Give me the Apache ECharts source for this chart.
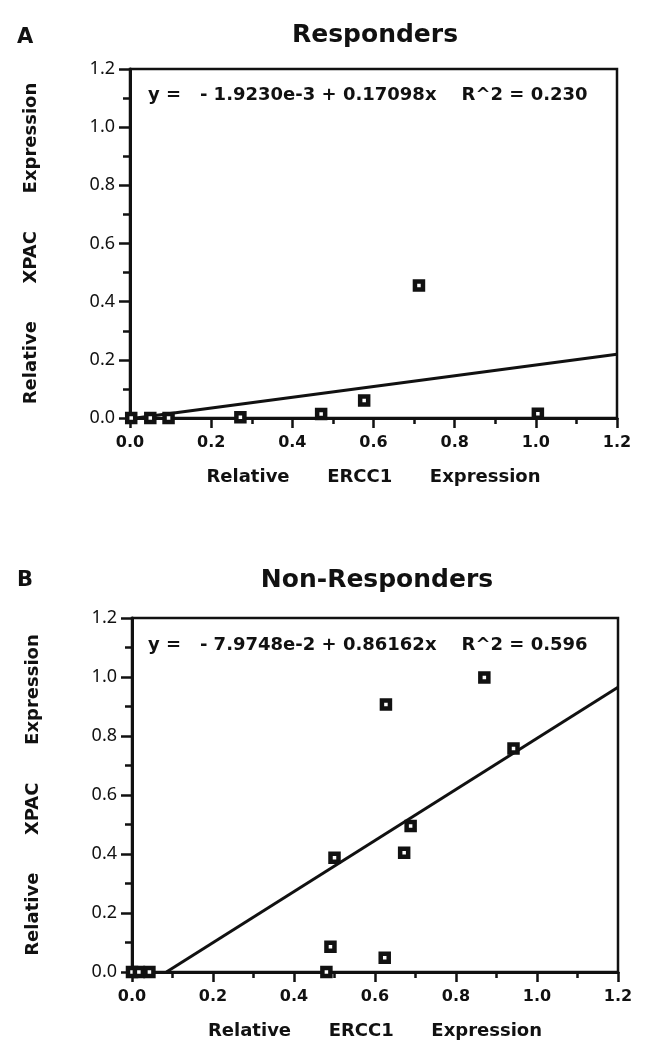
<!DOCTYPE html>
<html><head><meta charset="utf-8">
<script src="https://cdn.jsdelivr.net/npm/echarts@6/dist/echarts.min.js"></script>
<style>html,body{margin:0;padding:0;background:#fff}#c{width:652px;height:1045px}</style>
</head><body><div id="c"></div>
<script>
// Panel A: Responders
var respX = [0.003, 0.05, 0.095, 0.272, 0.471, 0.577, 0.712, 1.005];
var respY = [0.0, 0.0, 0.0, 0.003, 0.014, 0.06, 0.456, 0.015];
var respLineX = [0.015, 1.2];
var respLineY = [0.0, 0.219];
var respEq = 'y =   - 1.9230e-3 + 0.17098x    R^2 = 0.230';
// Panel B: Non-Responders
var nonX = [0.0, 0.017, 0.043, 0.48, 0.49, 0.50, 0.624, 0.627, 0.672, 0.688, 0.870, 0.942];
var nonY = [0.0, 0.0, 0.0, 0.0, 0.086, 0.387, 0.048, 0.907, 0.404, 0.495, 0.998, 0.758];
var nonLineX = [0.085, 1.2];
var nonLineY = [0.0, 0.965];
var nonEq = 'y =   - 7.9748e-2 + 0.86162x    R^2 = 0.596';
// Axis
var tickVals = [0.0, 0.2, 0.4, 0.6, 0.8, 1.0, 1.2];
var xName = 'Relative      ERCC1      Expression';
var yName = 'Relative      XPAC      Expression';

function pairs(xs, ys){ return xs.map(function(x,i){ return [x, ys[i]]; }); }
function fmt(v){ return v.toFixed(1); }

var chart = echarts.init(document.getElementById('c'), null, {renderer:'canvas'});
var grids = [
  {left:130, top:69, width:487, height:349},
  {left:132, top:618, width:486, height:354}
];
function xAx(i){
  return {gridIndex:i, type:'value', min:tickVals[0], max:tickVals[tickVals.length-1], interval:0.2,
    name:xName, nameLocation:'middle', nameGap:50,
    nameTextStyle:{fontFamily:'DejaVu Sans', fontWeight:'bold', fontSize:18, color:'#111'},
    axisLine:{show:true, onZero:false, lineStyle:{color:'#111', width:3}},
    axisTick:{show:true, length:10, lineStyle:{color:'#111', width:2.5}},
    minorTick:{show:true, splitNumber:2, length:6, lineStyle:{color:'#111', width:2.5}},
    splitLine:{show:false},
    axisLabel:{margin:17, fontFamily:'DejaVu Sans', fontWeight:'bold', fontSize:16, color:'#111', formatter:fmt}
  };
}
function yAx(i){
  return {gridIndex:i, type:'value', min:tickVals[0], max:tickVals[tickVals.length-1], interval:0.2,
    name:yName, nameLocation:'middle', nameGap:90,
    nameTextStyle:{fontFamily:'DejaVu Sans', fontWeight:'bold', fontSize:18, color:'#111'},
    axisLine:{show:true, onZero:false, lineStyle:{color:'#111', width:3}},
    axisTick:{show:true, length:11, lineStyle:{color:'#111', width:2.5}},
    minorTick:{show:true, splitNumber:2, length:7, lineStyle:{color:'#111', width:2.5}},
    splitLine:{show:false},
    axisLabel:{margin:15, fontFamily:'Noto Sans', fontSize:18, color:'#111', formatter:fmt}
  };
}
function scat(i, xs, ys){
  return {type:'scatter', xAxisIndex:i, yAxisIndex:i, data:pairs(xs,ys), symbol:'rect', symbolSize:8,
    itemStyle:{color:'#fff', borderColor:'#111', borderWidth:4.5, opacity:1}, z:5, clip:false};
}
function line(i, xs, ys){
  return {type:'line', xAxisIndex:i, yAxisIndex:i, data:pairs(xs,ys), showSymbol:false, symbol:'none',
    lineStyle:{color:'#111', width:3}, z:4, silent:true};
}
var titleFont = {fontFamily:'DejaVu Sans', fontWeight:'bold', fontSize:25, color:'#111'};
var eqFont = {fontFamily:'DejaVu Sans', fontSize:18, color:'#111'};
var letterFont = {fontFamily:'DejaVu Sans', fontWeight:'bold', fontSize:21, color:'#111'};
chart.setOption({
  animation:false,
  title:[
    {text:'Responders', left:370, top:18, textAlign:'center', textStyle:titleFont},
    {text:'Non-Responders', left:372, top:563, textAlign:'center', textStyle:titleFont},
    {text:'A', left:12, top:22, textStyle:letterFont},
    {text:'B', left:12, top:565, textStyle:letterFont},
    {text:respEq, left:143, top:81, textStyle:eqFont},
    {text:nonEq, left:143, top:631, textStyle:eqFont}
  ],
  grid: grids.map(function(g){ return Object.assign({show:true, borderColor:'#111', borderWidth:2.5, backgroundColor:'transparent'}, g); }),
  xAxis:[xAx(0), xAx(1)],
  yAxis:[yAx(0), yAx(1)],
  series:[
    line(0, respLineX, respLineY),
    scat(0, respX, respY),
    line(1, nonLineX, nonLineY),
    scat(1, nonX, nonY)
  ]
});
</script></body></html>
